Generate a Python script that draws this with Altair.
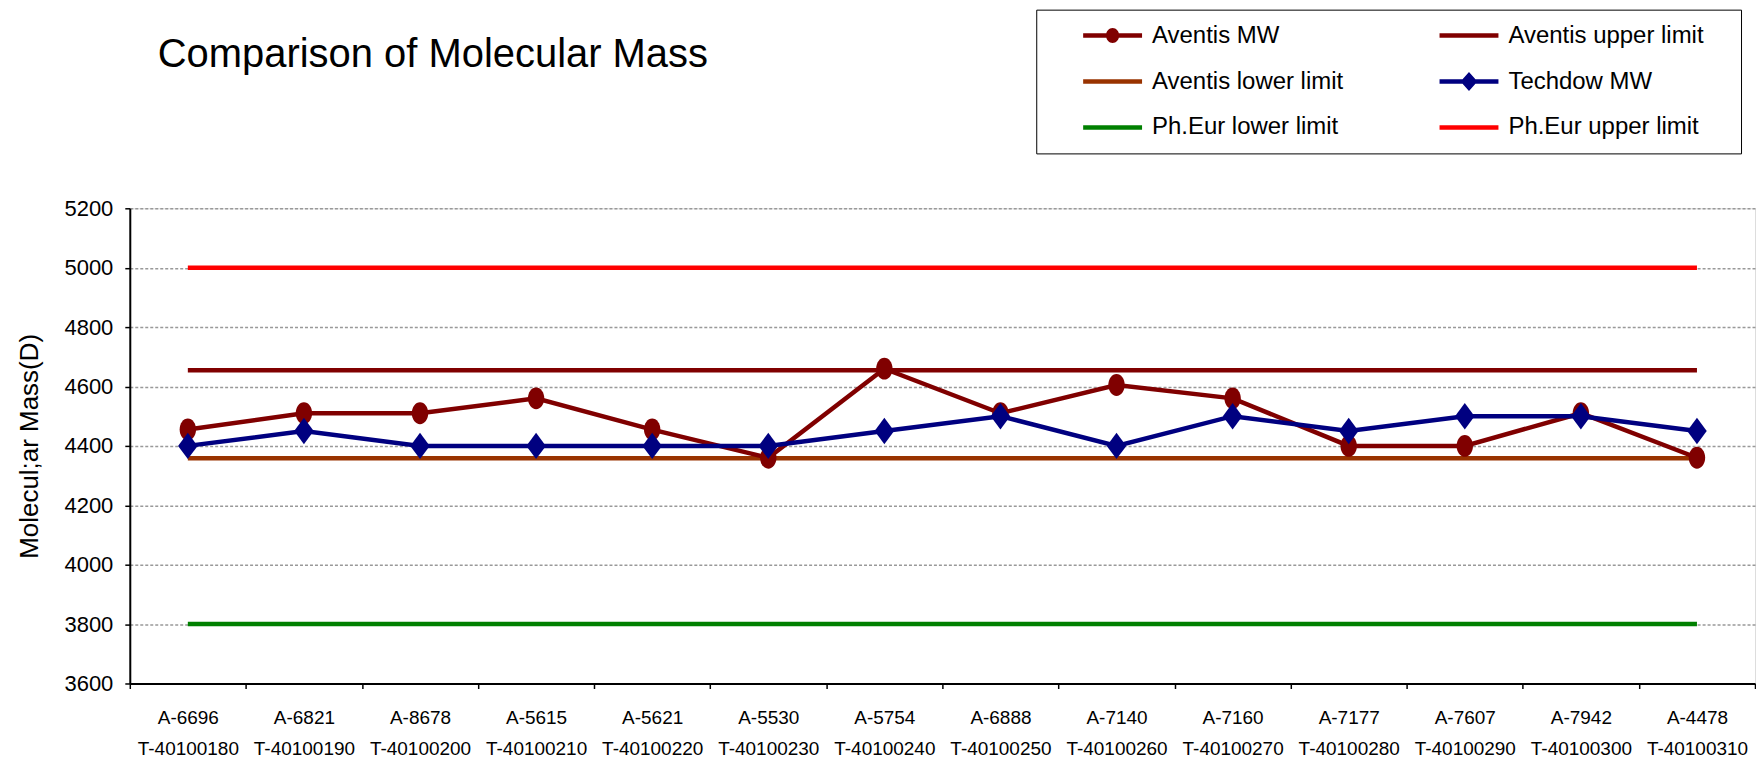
import altair as alt
import pandas as pd

labels_a = ["A-6696", "A-6821", "A-8678", "A-5615", "A-5621", "A-5530", "A-5754",
            "A-6888", "A-7140", "A-7160", "A-7177", "A-7607", "A-7942", "A-4478"]
labels_t = ["T-40100180", "T-40100190", "T-40100200", "T-40100210", "T-40100220",
            "T-40100230", "T-40100240", "T-40100250", "T-40100260", "T-40100270",
            "T-40100280", "T-40100290", "T-40100300", "T-40100310"]
aventis_mw = [4455, 4510, 4510, 4560, 4455, 4360, 4660, 4510, 4605, 4560, 4400, 4400, 4510, 4360]
techdow_mw = [4400, 4450, 4400, 4400, 4400, 4400, 4450, 4500, 4400, 4500, 4450, 4500, 4500, 4450]
aventis_upper = 4655
aventis_lower = 4358
pheur_lower = 3800
pheur_upper = 5000

# legend order (column-major: first column, then second column)
series = ["Aventis MW", "Aventis lower limit", "Ph.Eur lower limit",
          "Aventis upper limit", "Techdow MW", "Ph.Eur upper limit"]
colors = ["#800000", "#993300", "#008000", "#800000", "#000080", "#FF0000"]

cats = [a + "|" + t for a, t in zip(labels_a, labels_t)]

def frame(name, vals):
    return pd.DataFrame({"cat": cats, "series": name, "value": vals})

limits = pd.concat([
    frame("Aventis upper limit", [aventis_upper] * len(cats)),
    frame("Aventis lower limit", [aventis_lower] * len(cats)),
    frame("Ph.Eur lower limit", [pheur_lower] * len(cats)),
    frame("Ph.Eur upper limit", [pheur_upper] * len(cats)),
])
av = frame("Aventis MW", aventis_mw)
tw = frame("Techdow MW", techdow_mw)
legend_df = pd.DataFrame({"cat": [cats[0]] * len(series), "series": series,
                          "value": [pheur_lower] * len(series)})

ellipse = "M -0.75 0 A 0.75 1 0 1 1 0.75 0 A 0.75 1 0 1 1 -0.75 0 Z"
diamond = "M 0 -1 L 0.74 0 L 0 1 L -0.74 0 Z"
# legend symbols: 16 px per unit (symbolSize 1024)
lg_line = "M -1.844 -0.14 H 1.844 V 0.14 H -1.844 Z"
lg_circle = lg_line + " M -0.41 0 A 0.41 0.47 0 1 1 0.41 0 A 0.41 0.47 0 1 1 -0.41 0 Z"
lg_diamond = lg_line + " M 0 -0.59 L 0.53 0 L 0 0.59 L -0.53 0 Z"
shape_range = [lg_circle, lg_line, lg_line, lg_line, lg_diamond, lg_line]

FONT = "Liberation Sans"

x_enc = alt.X("cat:N", sort=cats, title=None,
              scale=alt.Scale(paddingInner=0, paddingOuter=0),
              axis=alt.Axis(labelExpr="split(datum.label, '|')", labelAngle=0,
                            labelFontSize=19, labelFont=FONT, labelColor="black",
                            labelLineHeight=31, labelPadding=20,
                            tickBand="extent", tickSize=5, tickColor="black",
                            domainColor="black", domainWidth=2, tickWidth=1.5,
                            grid=False))
y_enc = alt.Y("value:Q", title="Molecul;ar Mass(D)",
              scale=alt.Scale(domain=[3600, 5200], nice=False, zero=False),
              axis=alt.Axis(values=list(range(3600, 5201, 200)), format="d",
                            labelFontSize=22, labelFont=FONT, labelColor="black",
                            titleFontSize=26, titleFont=FONT, titleFontWeight="normal",
                            titleColor="black", titlePadding=22,
                            tickSize=5, tickColor="black", tickWidth=1.5,
                            domainColor="black", domainWidth=2, labelPadding=12,
                            grid=True, gridColor="#999999", gridDash=[3, 2], gridWidth=1.5))

color_scale = alt.Scale(domain=series, range=colors)

lines_lim = alt.Chart(limits).mark_line(strokeWidth=4.5).encode(
    x=x_enc, y=y_enc,
    color=alt.Color("series:N", scale=color_scale, legend=None),
    detail="series:N")
av_line = alt.Chart(av).mark_line(strokeWidth=4.5).encode(
    x=x_enc, y=y_enc, color=alt.Color("series:N", scale=color_scale, legend=None))
av_pts = alt.Chart(av).mark_point(shape=ellipse, filled=True, size=480, opacity=1).encode(
    x=x_enc, y=y_enc, color=alt.Color("series:N", scale=color_scale, legend=None))
tw_line = alt.Chart(tw).mark_line(strokeWidth=4.5).encode(
    x=x_enc, y=y_enc, color=alt.Color("series:N", scale=color_scale, legend=None))
tw_pts = alt.Chart(tw).mark_point(shape=diamond, filled=True, size=700, opacity=1).encode(
    x=x_enc, y=y_enc, color=alt.Color("series:N", scale=color_scale, legend=None))

leg = alt.Legend(title="\u200b", titleOrient="right", titlePadding=27, titleFontSize=10,
                 orient="none", legendX=908, legendY=-199, columns=2,
                 symbolSize=1024, symbolOffset=49.5, labelFontSize=24, labelFont=FONT,
                 labelColor="black", labelOffset=22.5, labelLimit=500,
                 columnPadding=59, rowPadding=14, padding=10, clipHeight=32,
                 strokeColor="black", fillColor="white")

legend_layer = alt.Chart(legend_df).mark_point(filled=True, opacity=1, size=0).encode(
    x=x_enc, y=y_enc,
    color=alt.Color("series:N", scale=color_scale, legend=leg),
    shape=alt.Shape("series:N", scale=alt.Scale(domain=series, range=shape_range), legend=leg))

chart = alt.layer(lines_lim, av_line, av_pts, tw_line, tw_pts, legend_layer).resolve_scale(
    color="independent", shape="independent"
).properties(
    width=1628, height=476,
    padding={"left": 8, "top": 0, "right": 0, "bottom": 0},
    title=alt.TitleParams("Comparison of Molecular Mass", anchor="start", frame="group",
                          dx=28, offset=-66, fontSize=40, font=FONT,
                          fontWeight="normal", color="black"),
).configure_view(stroke="#888888", strokeWidth=1.5).configure(background="white")

chart.save("out.html", embed_options={"renderer": "svg", "actions": False})
